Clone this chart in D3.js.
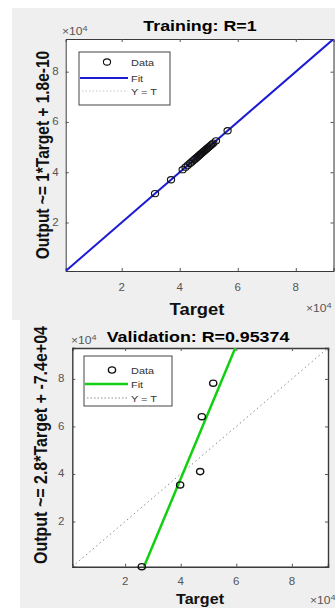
<!DOCTYPE html>
<html>
<head>
<meta charset="utf-8">
<script src="https://cdn.jsdelivr.net/npm/d3@7"></script>
<style>
  body { margin: 0; background: #fff; }
  svg { display: block; font-family: 'Liberation Sans', Arial, sans-serif; }
</style>
</head>
<body>
<svg width="335" height="608"></svg>
<script>
// values in units of 1e4
const trainTargets = [3.15, 3.7, 4.1, 4.2, 4.28, 4.35, 4.4, 4.45, 4.5, 4.54, 4.58, 4.62, 4.66,
  4.7, 4.73, 4.76, 4.8, 4.83, 4.86, 4.9, 4.93, 4.96, 5.0, 5.04, 5.08, 5.12, 5.16, 5.25, 5.65];
const trainOutputs = [3.15, 3.7, 4.1, 4.2, 4.28, 4.35, 4.4, 4.45, 4.5, 4.54, 4.58, 4.62, 4.66,
  4.7, 4.73, 4.76, 4.8, 4.83, 4.86, 4.9, 4.93, 4.96, 5.0, 5.04, 5.08, 5.12, 5.16, 5.25, 5.65];
const valTargets = [2.6, 3.98, 4.7, 4.76, 5.17];
const valOutputs = [0.1, 3.54, 4.1, 6.41, 7.82];
const trainLimits = [0.07, 9.3];
const valLimits = [0.1, 9.3];
const fitSlopes = [1, 2.8];
const fitIntercepts = [1.8e-14, -7.4];
const tickValues = [2, 4, 6, 8];
const titles = ['Training: R=1', 'Validation: R=0.95374'];
const yLabels = ['Output ~= 1*Target + 1.8e-10', 'Output ~= 2.8*Target + -7.4e+04'];
const legendLabels = ['Data', 'Fit', 'Y = T'];

const svg = d3.select('svg');
const SX = 1.15; // picture is stretched sideways

const addText = (parent, x, y, str, size, opts = {}) => {
  const g = parent.append('g')
    .attr('transform', `translate(${x},${y}) scale(${SX},1)` + (opts.rotate ? ' rotate(-90)' : ''));
  const t = g.append('text')
    .attr('font-size', size)
    .attr('font-weight', opts.bold ? 'bold' : 'normal')
    .attr('fill', opts.fill || '#111')
    .attr('text-anchor', opts.anchor || 'start')
    .text(str);
  return t;
};

const addExponent = (parent, x, y) => {
  const t = addText(parent, x, y, '\u00d710', 10.5, {fill: '#555'});
  t.append('tspan').attr('dy', -4.5).attr('font-size', 8).text('4');
};

const panels = [
  {
    bg: [12, 8, 323, 312], box: {l: 65.7, r: 333.5, t: 39, b: 271},
    targets: trainTargets, outputs: trainOutputs, limits: trainLimits,
    slope: fitSlopes[0], intercept: fitIntercepts[0], fitColor: '#1c1cd4', fitW: 2,
    title: titles[0], titleX: 200, titleY: 31, titleSize: 15.5,
    ylabel: yLabels[0], ylabelX: 49, ylabelY: 155, ylabelSize: 15.5,
    xlabelX: 197, xlabelY: 315, xlabelSize: 16,
    topExp: [62, 35], rightExp: [306, 312],
    legend: {x: 79, y: 52, w: 91, h: 53, rows: [62, 78, 91], marker: 107, text: 131, lineEnd: 128},
    identityColor: '#c8c8c8', markerW: 1.1
  },
  {
    bg: [20, 320, 315, 288], box: {l: 72.3, r: 328, t: 348, b: 566.7},
    targets: valTargets, outputs: valOutputs, limits: valLimits,
    slope: fitSlopes[1], intercept: fitIntercepts[1], fitColor: '#10d010', fitW: 2.5,
    title: titles[1], titleX: 198, titleY: 342, titleSize: 15.5,
    ylabel: yLabels[1], ylabelX: 47, ylabelY: 445, ylabelSize: 16,
    xlabelX: 200, xlabelY: 604, xlabelSize: 14,
    topExp: [71, 344], rightExp: [310, 604],
    legend: {x: 84, y: 356, w: 88, h: 50, rows: [370, 384, 398], marker: 112, text: 131, lineEnd: 128},
    identityColor: '#8a8a8a', markerW: 1.4
  }
];

panels.forEach((p, i) => {
  const root = svg.append('g');
  root.append('rect')
    .attr('x', p.bg[0]).attr('y', p.bg[1])
    .attr('width', p.bg[2]).attr('height', p.bg[3])
    .attr('fill', '#efefef');

  const b = p.box;
  const xScale = d3.scaleLinear().domain(p.limits).range([b.l, b.r]);
  const yScale = d3.scaleLinear().domain(p.limits).range([b.b, b.t]);

  root.append('rect')
    .attr('x', b.l).attr('y', b.t)
    .attr('width', b.r - b.l).attr('height', b.b - b.t)
    .attr('fill', '#fff');

  const clipId = 'clip' + i;
  root.append('clipPath').attr('id', clipId)
    .append('rect')
    .attr('x', b.l).attr('y', b.t)
    .attr('width', b.r - b.l).attr('height', b.b - b.t);

  // axes with inward ticks on all four sides
  const tickLen = 3;
  const xAxisB = d3.axisBottom(xScale).tickValues(tickValues).tickSize(-tickLen).tickFormat('');
  const xAxisT = d3.axisTop(xScale).tickValues(tickValues).tickSize(-tickLen).tickFormat('');
  const yAxisL = d3.axisLeft(yScale).tickValues(tickValues).tickSize(-tickLen).tickFormat('');
  const yAxisR = d3.axisRight(yScale).tickValues(tickValues).tickSize(-tickLen).tickFormat('');
  [[xAxisB, `0,${b.b}`], [xAxisT, `0,${b.t}`], [yAxisL, `${b.l},0`], [yAxisR, `${b.r},0`]]
    .forEach(([ax, tr]) => {
      const g = root.append('g').attr('transform', `translate(${tr})`).call(ax);
      g.select('.domain').attr('stroke', '#3a3a3a').attr('stroke-width', i === 1 ? 1.4 : 1);
      g.selectAll('.tick line').attr('stroke', '#555');
    });

  tickValues.forEach(v => {
    addText(root, xScale(v), b.b + (i === 0 ? 20 : 18), d3.format('d')(v), 10, {anchor: 'middle', fill: '#555'});
    addText(root, b.l - (i === 0 ? 7 : 8), yScale(v) + 3.5, d3.format('d')(v), 10, {anchor: 'end', fill: '#555'});
  });

  const plot = root.append('g').attr('clip-path', `url(#${clipId})`);

  // Y = T
  plot.append('line')
    .attr('x1', xScale(p.limits[0])).attr('y1', yScale(p.limits[0]))
    .attr('x2', xScale(p.limits[1])).attr('y2', yScale(p.limits[1]))
    .attr('stroke', p.identityColor).attr('stroke-width', 1)
    .attr('stroke-dasharray', '1.5,3');

  // fit line
  const fit = t => p.slope * t + p.intercept;
  plot.append('line')
    .attr('x1', xScale(p.limits[0])).attr('y1', yScale(fit(p.limits[0])))
    .attr('x2', xScale(p.limits[1])).attr('y2', yScale(fit(p.limits[1])))
    .attr('stroke', p.fitColor).attr('stroke-width', p.fitW);

  // data markers
  root.append('g').selectAll('ellipse')
    .data(p.targets.map((t, k) => [t, p.outputs[k]]))
    .enter().append('ellipse')
      .attr('cx', d => xScale(d[0]))
      .attr('cy', d => yScale(d[1]))
      .attr('rx', 3.6).attr('ry', 3.1)
      .attr('fill', 'none')
      .attr('stroke', '#111')
      .attr('stroke-width', p.markerW);

  // legend
  const L = p.legend;
  const lg = root.append('g');
  lg.append('rect')
    .attr('x', L.x).attr('y', L.y).attr('width', L.w).attr('height', L.h)
    .attr('fill', '#fff').attr('stroke', '#444').attr('stroke-width', 1);
  lg.append('ellipse')
    .attr('cx', L.marker).attr('cy', L.rows[0])
    .attr('rx', 3.6).attr('ry', 3.1)
    .attr('fill', 'none').attr('stroke', '#111').attr('stroke-width', p.markerW);
  lg.append('line')
    .attr('x1', L.x + 1).attr('x2', L.lineEnd)
    .attr('y1', L.rows[1]).attr('y2', L.rows[1])
    .attr('stroke', p.fitColor).attr('stroke-width', p.fitW);
  lg.append('line')
    .attr('x1', L.x + 3).attr('x2', L.lineEnd)
    .attr('y1', L.rows[2]).attr('y2', L.rows[2])
    .attr('stroke', p.identityColor).attr('stroke-width', 1)
    .attr('stroke-dasharray', '1.5,2');
  legendLabels.forEach((s, k) => {
    addText(lg, L.text, L.rows[k] + 3.5, s, 9.5, {fill: '#333'});
  });

  // labels
  addText(root, p.titleX, p.titleY, p.title, p.titleSize, {anchor: 'middle', bold: true, fill: '#000'});
  addText(root, p.ylabelX, p.ylabelY, p.ylabel, p.ylabelSize, {anchor: 'middle', bold: true, rotate: true, fill: '#111'});
  addText(root, p.xlabelX, p.xlabelY, 'Target', p.xlabelSize, {anchor: 'middle', bold: true, fill: '#111'});
  addExponent(root, p.topExp[0], p.topExp[1]);
  addExponent(root, p.rightExp[0], p.rightExp[1]);
});
</script>
</body>
</html>
